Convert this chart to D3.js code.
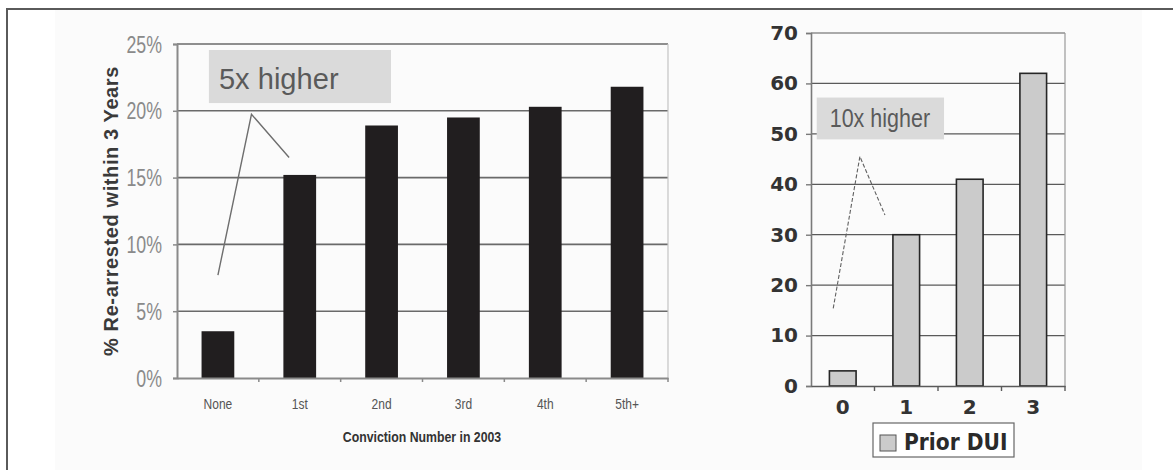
<!DOCTYPE html>
<html>
<head>
<meta charset="utf-8">
<script src="https://cdn.jsdelivr.net/npm/d3@7"></script>
<style>
  html, body { margin: 0; padding: 0; background: #ffffff; }
  svg { display: block; }
</style>
</head>
<body>
<svg id="chart" width="1173" height="470"></svg>
<script>
// Re-arrest rate by conviction number (left panel)
const convictionCats = ["None", "1st", "2nd", "3rd", "4th", "5th+"];
const rearrestRates = [3.5, 15.2, 18.9, 19.5, 20.3, 21.8];
const rateTicks = [0, 5, 10, 15, 20, 25];

// Rate by number of prior DUIs (right panel)
const priorCats = ["0", "1", "2", "3"];
const priorValues = [3, 30, 41, 62];
const priorTicks = [0, 10, 20, 30, 40, 50, 60, 70];

const svg = d3.select("#chart");

// page frame
svg.append("rect").attr("x", 55).attr("y", 10).attr("width", 1087).attr("height", 460).attr("fill", "#fbfbfb");
svg.append("line").attr("x1", 6).attr("x2", 1173).attr("y1", 9).attr("y2", 9)
  .attr("stroke", "#5a5a5a").attr("stroke-width", 2);
svg.append("line").attr("x1", 7).attr("x2", 7).attr("y1", 8).attr("y2", 470)
  .attr("stroke", "#5a5a5a").attr("stroke-width", 2);

// helper: text squeezed horizontally around its anchor
function narrowText(g, x, y, str, size, sx, opts) {
  const t = g.append("text")
    .attr("transform", `translate(${x},${y}) scale(${sx},1)`)
    .attr("font-size", size)
    .attr("font-family", opts.family || "'Liberation Sans', Arial, sans-serif")
    .attr("font-weight", opts.weight || "normal")
    .attr("fill", opts.fill || "#333")
    .attr("text-anchor", opts.anchor || "start")
    .text(str);
  return t;
}

/* ---------------- left panel ---------------- */
const L = svg.append("g");
const x1 = d3.scaleBand().domain(convictionCats).range([177, 668]).paddingInner(0.6).paddingOuter(0.3);
const y1 = d3.scaleLinear().domain([0, 25]).range([378, 44]);
const xi1 = i => x1.range()[0] + x1.step() * (i + 0.5);

// gridlines
L.selectAll("line.grid").data(rateTicks.filter(d => d > 0)).join("line")
  .attr("x1", 177).attr("x2", 668)
  .attr("y1", d => y1(d)).attr("y2", d => y1(d))
  .attr("stroke", "#6a6a6a").attr("stroke-width", 1.6);
// right border
L.append("line").attr("x1", 668).attr("x2", 668).attr("y1", y1(25)).attr("y2", y1(0))
  .attr("stroke", "#c4c4c4").attr("stroke-width", 1.2);

// bars
L.selectAll("rect.bar").data(rearrestRates).join("rect")
  .attr("x", (d, i) => x1(convictionCats[i]))
  .attr("width", x1.bandwidth())
  .attr("y", d => y1(d))
  .attr("height", d => y1(0) - y1(d))
  .attr("fill", "#211e1f");

// y axis
const yAx1 = L.append("g").attr("transform", "translate(177,0)")
  .call(d3.axisLeft(y1).tickValues(rateTicks).tickSize(4).tickFormat(() => ""));
yAx1.select(".domain").attr("stroke", "#8a8a8a").attr("stroke-width", 2);
yAx1.selectAll(".tick line").attr("stroke", "#8a8a8a").attr("stroke-width", 1.5);
rateTicks.forEach(v => {
  narrowText(L, 162, y1(v) + 8.5, v + "%", 24, 0.74, { anchor: "end", fill: "#8a8a8a" });
});

// x axis
const xAx1 = L.append("g").attr("transform", `translate(0,${y1(0)})`)
  .call(d3.axisBottom(x1).tickSize(0).tickFormat(() => ""));
xAx1.select(".domain").attr("stroke", "#8a8a8a").attr("stroke-width", 2);
d3.range(1, convictionCats.length + 1).forEach(i => {
  const bx = x1.range()[0] + x1.step() * i;
  L.append("line").attr("x1", bx).attr("x2", bx).attr("y1", y1(0)).attr("y2", y1(0) + 4)
    .attr("stroke", "#8a8a8a").attr("stroke-width", 1.5);
});
convictionCats.forEach((c, i) => {
  narrowText(L, xi1(i), 409, c, 15, 0.8, { anchor: "middle", fill: "#555" });
});

// axis titles
narrowText(L, 422, 442, "Conviction Number in 2003", 15, 0.82, { anchor: "middle", weight: "bold", fill: "#333" });
L.append("text")
  .attr("transform", "translate(118,211) rotate(-90)")
  .attr("text-anchor", "middle")
  .attr("font-family", "'Liberation Sans', Arial, sans-serif")
  .attr("font-weight", "bold")
  .attr("font-size", 20)
  .attr("letter-spacing", 0.6)
  .attr("fill", "#3a3a3a")
  .text("% Re-arrested within 3 Years");

// callout
const box1 = { i0: -0.11, i1: 2.115, v0: 24.55, v1: 20.58 };
L.append("rect")
  .attr("x", xi1(box1.i0)).attr("y", y1(box1.v0))
  .attr("width", xi1(box1.i1) - xi1(box1.i0))
  .attr("height", y1(box1.v1) - y1(box1.v0))
  .attr("fill", "#dadada");
narrowText(L, xi1(box1.i0) + 10, y1(box1.v0) + 39, "5x higher", 30, 0.97, { fill: "#5a5a5a" });
const pointer1 = [[0, 7.7], [0.41, 19.74], [0.87, 16.5]];
L.append("path")
  .attr("d", d3.line().x(d => xi1(d[0])).y(d => y1(d[1]))(pointer1))
  .attr("fill", "none").attr("stroke", "#6e6e6e").attr("stroke-width", 1.4);

/* ---------------- right panel ---------------- */
const R = svg.append("g");
const x2 = d3.scaleBand().domain(priorCats).range([811, 1065]).paddingInner(0.58).paddingOuter(0.29);
const y2 = d3.scaleLinear().domain([0, 70]).range([386, 33]);
const xi2 = i => x2.range()[0] + x2.step() * (i + 0.5);

R.selectAll("line.grid").data(priorTicks.filter(d => d > 0)).join("line")
  .attr("x1", 811).attr("x2", 1065)
  .attr("y1", d => y2(d)).attr("y2", d => y2(d))
  .attr("stroke", "#5a5a5a").attr("stroke-width", 1.2);
R.append("line").attr("x1", 1065).attr("x2", 1065).attr("y1", y2(70)).attr("y2", y2(0))
  .attr("stroke", "#9a9a9a").attr("stroke-width", 1.2);

R.selectAll("rect.bar").data(priorValues).join("rect")
  .attr("x", (d, i) => x2(priorCats[i]))
  .attr("width", x2.bandwidth())
  .attr("y", d => y2(d))
  .attr("height", d => y2(0) - y2(d))
  .attr("fill", "#cbcbcb")
  .attr("stroke", "#262626").attr("stroke-width", 1.6);

const yAx2 = R.append("g").attr("transform", "translate(811,0)")
  .call(d3.axisLeft(y2).tickValues(priorTicks).tickSize(5).tickPadding(8));
yAx2.select(".domain").attr("stroke", "#7a7a7a").attr("stroke-width", 1.6);
yAx2.selectAll(".tick line").attr("stroke", "#7a7a7a").attr("stroke-width", 1.4);
yAx2.selectAll(".tick text")
  .attr("font-family", "'DejaVu Sans', Verdana, sans-serif")
  .attr("font-weight", "bold").attr("font-size", 20).attr("fill", "#333");

const xAx2 = R.append("g").attr("transform", `translate(0,${y2(0)})`)
  .call(d3.axisBottom(x2).tickSize(0).tickPadding(14));
xAx2.select(".domain").attr("stroke", "#5a5a5a").attr("stroke-width", 1.6);
xAx2.selectAll(".tick text")
  .attr("font-family", "'DejaVu Sans', Verdana, sans-serif")
  .attr("font-weight", "bold").attr("font-size", 20).attr("fill", "#333");
d3.range(1, priorCats.length + 1).forEach(i => {
  const bx = x2.range()[0] + x2.step() * i;
  R.append("line").attr("x1", bx).attr("x2", bx).attr("y1", y2(0)).attr("y2", y2(0) + 5)
    .attr("stroke", "#5a5a5a").attr("stroke-width", 1.4);
});

// callout
const box2 = { i0: -0.41, i1: 1.595, v0: 57.2, v1: 48.9 };
R.append("rect")
  .attr("x", xi2(box2.i0)).attr("y", y2(box2.v0))
  .attr("width", xi2(box2.i1) - xi2(box2.i0))
  .attr("height", y2(box2.v1) - y2(box2.v0))
  .attr("fill", "#dadada");
narrowText(R, xi2(box2.i0) + 13, y2(box2.v0) + 29.5, "10x higher", 25, 0.86, { fill: "#5a5a5a" });
const pointer2 = [[-0.15, 15.4], [0.27, 45.5], [0.665, 33.9]];
R.append("path")
  .attr("d", d3.line().x(d => xi2(d[0])).y(d => y2(d[1]))(pointer2))
  .attr("fill", "none").attr("stroke", "#606060").attr("stroke-width", 1.1)
  .attr("stroke-dasharray", "4,2");

// legend
const lg = R.append("g").attr("transform", "translate(873,423)");
lg.append("rect").attr("width", 141).attr("height", 34)
  .attr("fill", "#ffffff").attr("stroke", "#666").attr("stroke-width", 1.2);
lg.append("rect").attr("x", 7).attr("y", 12).attr("width", 16).attr("height", 16)
  .attr("fill", "#cbcbcb").attr("stroke", "#555").attr("stroke-width", 1);
narrowText(lg, 31, 27, "Prior DUI", 23, 0.88, { family: "'DejaVu Sans', Verdana, sans-serif", weight: "bold", fill: "#2a2a2a" });
</script>
</body>
</html>
